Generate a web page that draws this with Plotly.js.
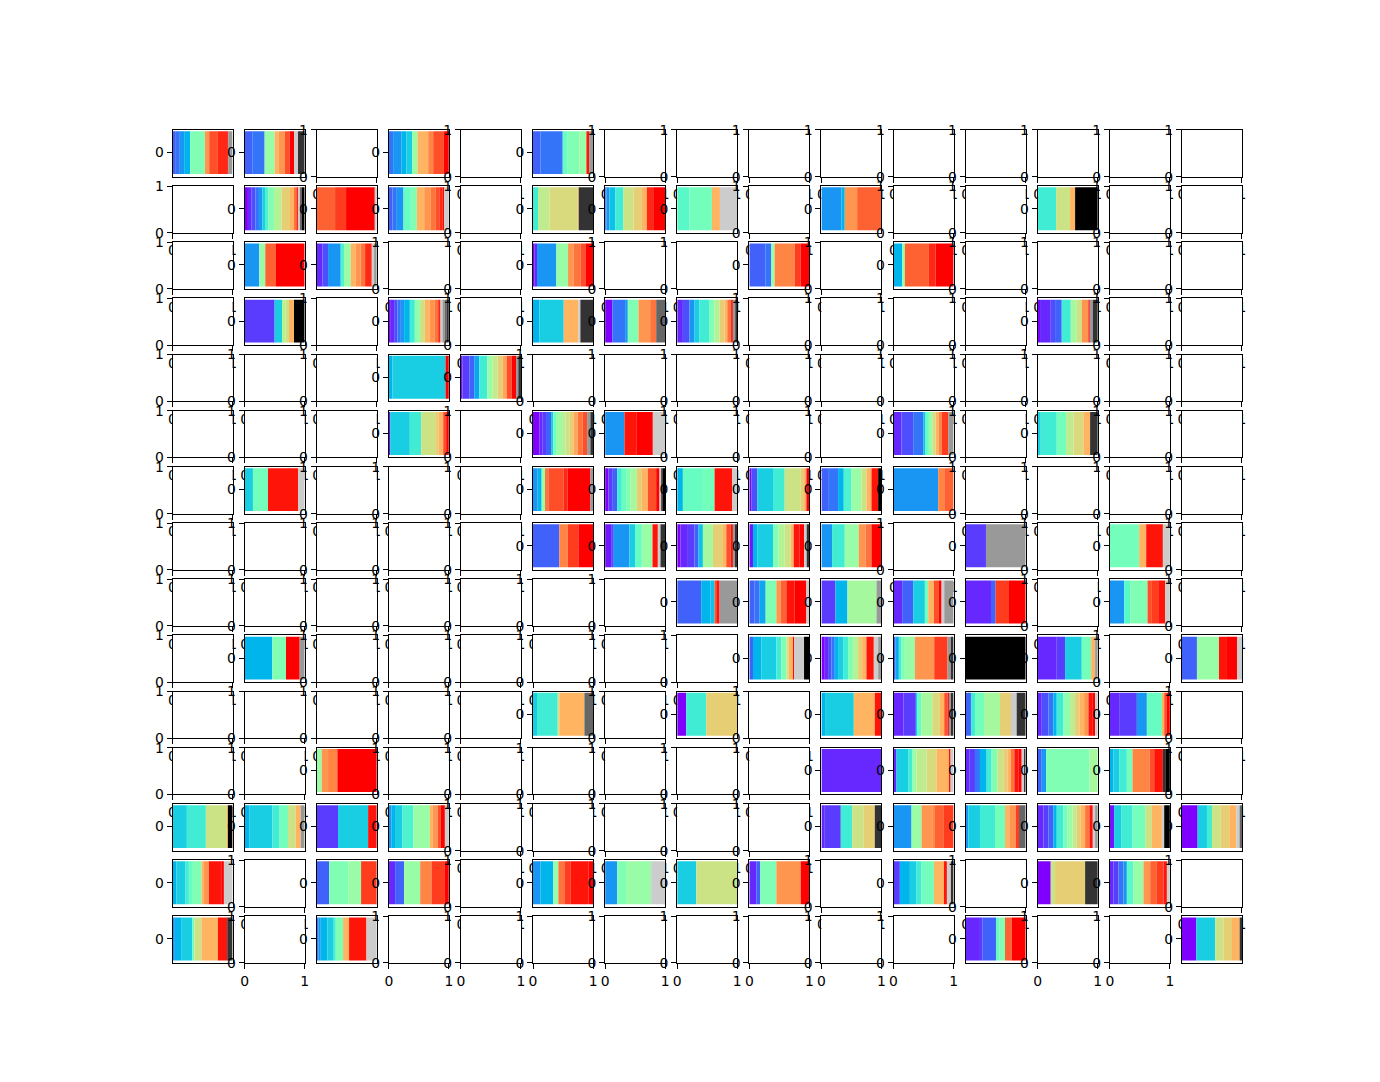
<!DOCTYPE html>
<html><head><meta charset="utf-8">
<script src="https://cdn.plot.ly/plotly-3.0.1.min.js"></script>
<style>html,body{margin:0;padding:0;background:#fff;}#chart{width:1380px;height:1082px;}</style>
</head><body><div id="chart"></div>
<script>
// facet grid: 15 x 15 panels, numbered row-major 1..225; only listed panels have data
const gridSize = 15;
const panelIds = [1,2,4,6,17,18,19,21,22,23,25,28,32,33,36,39,41,47,49,51,52,53,58,64,65,
79,81,82,86,88,92,96,97,98,99,100,101,111,112,113,114,115,117,119,128,129,130,131,132,134,
137,144,145,146,147,148,150,156,158,160,161,162,163,164,168,175,176,177,178,179,
181,182,183,184,190,191,192,193,194,195,196,198,199,201,202,203,204,206,208,209,211,213,222,225];
// category codes: 0..40 = ordered levels, 41..45 = special levels
const panelCategories = [
[5,6,8,10,20,32,36,38,40,42],[5,6,22,30,32,36,40,41,44],[6,8,10,12,22,30,33,36,40],[5,6,18,20,22,39,42],
[0,2,4,6,8,12,16,20,24,28,30,34,38,41,43,45],[35,37,40,41],[5,6,8,18,20,30,32,34,36,38,40,41],[15,25,27,29,44],
[6,8,11,15,26,28,30,38,40],[17,19,30,41],[8,10,32,35],[15,26,30,45],
[8,22,35,40],[2,4,8,16,22,30,32,34,38,41,42],[0,2,8,22,32,34,36,40],[5,6,22,33,37,40],[10,22,35,38,40],
[3,12,24,26,30,45],[0,2,4,6,8,10,15,21,26,30,32,34,38,41,42,43,44],[10,12,30,41,44],[0,6,8,20,32,34,43],
[2,4,8,12,15,20,24,28,30,34,38,42,44],[0,2,4,5,15,23,26,32,40,42,44],
[10,12,40],[1,3,5,9,15,22,25,28,31,36,40,42,44],
[0,12,15,26,28,30,36,40],[0,2,3,5,12,19,22,24,26,28,31,34,36,42,44],[8,39,40,41],[2,4,6,11,18,22,26,30,33,37,42],[12,15,19,25,27,30,44],
[12,19,39,41],[8,10,22,34,36,38,40,42],[0,3,5,15,18,20,23,28,30,36,40,41,44,45],[10,18,19,39,41],[0,4,12,15,26,28,30,36,40],[5,6,10,16,22,26,30,39,45],[8,33,35],
[5,33,37,40],[1,4,8,12,18,22,39,41,44],[0,2,3,5,11,23,28,30,36,39,42,44],[1,10,12,20,24,26,30,39,40,41,44],[8,15,22,32,34,40],[3,42],[19,30,39,41],
[5,10,11,36,39,42],[5,6,9,20,32,35,39,40,41],[3,10,23,42],[2,5,12,19,30,36,40,41,42],[2,5,37,40],[8,17,20,36,37,39,41],
[10,20,40,42],[5,10,12,15,20,26,30,40,41,45],[0,2,4,6,10,12,15,20,24,28,30,39,41,42],[5,9,15,20,22,32,37,42,44],[45],[2,3,12,19,30,42],[5,22,39,40,41],
[12,15,26,30,43],[0,15,28],[10,12,30,39],[2,3,12,18,23,27,30,36,40,42,44],[5,15,19,23,28,41,44],[2,4,6,10,15,21,25,28,30,32,39,40,41],[2,3,8,18,30,36,40],
[22,32,33,40],[2],[2,12,15,22,25,27,30,39,41],[2,3,6,10,15,20,26,28,30,34,39,40,41,44],[5,8,20,23],[10,12,15,19,33,36,39,44,45],
[12,15,26,30,45],[10,12,15,19,26,30,42],[3,12,39],[8,10,12,16,22,30,32,36,40,41],[2,3,15,26,28,44],[8,22,32,33,35,37],[8,12,15,19,30,32,37,43],
[2,3,5,10,15,19,22,25,28,30,34,39,41,42],[1,12,15,19,26,30,41,45],[0,12,15,26,28,30,41,43],
[10,12,15,18,20,30,32,39,40,41],[5,20,22,37],[2,5,22,33,37,40],[8,10,22,34,37,39,40],[8,20,22,41],[12,26],[2,5,20,32,40],[3,10,12,15,19,30,39,41,44],[0,26,28,44],[2,3,6,8,17,22,32,35,37,39,41],
[8,10,12,19,26,30,39,44],[6,8,10,12,15,20,30,39,41],[2,3,5,18,20,35,40],[0,12,26,28,30,44]
];
const panelCounts = [
[10,12,13,18,44,13,26,28,3,13],[23,37,30,12,18,15,13,12,20],[13,25,15,17,16,32,15,32,15],[22,67,15,35,21,8,12],
[10,11,12,10,10,8,10,17,23,25,12,7,6,5,5,9],[55,33,86,6],[11,13,20,22,18,22,20,15,12,8,5,14],[15,34,85,3,43],
[4,9,18,24,30,25,15,19,36],[37,67,24,52],[60,10,37,73],[55,42,15,68],
[44,18,32,86],[17,17,38,10,20,15,15,13,20,7,8],[5,7,58,35,16,21,15,23],[48,18,10,60,18,26],[26,8,72,20,54],
[90,22,10,11,15,32],[6,10,10,10,10,17,15,15,15,15,15,10,7,6,7,5,7],[19,73,44,6,38],[22,38,8,32,35,18,27],
[17,20,15,15,30,15,15,15,8,10,7,7,6],[7,32,13,20,27,18,15,20,4,9,15],
[11,159,10],[5,20,15,15,24,15,16,15,12,15,13,7,8],
[4,59,34,42,10,14,9,8],[19,10,10,15,7,8,15,13,12,13,12,15,13,10,8],[58,37,48,37],[24,35,30,7,10,10,10,10,8,20,16],[9,48,28,22,30,20,23],
[25,45,90,20],[14,12,10,10,45,13,68,8],[10,13,13,14,13,12,20,15,18,25,10,5,5,7],[17,60,35,53,15],[6,18,47,35,48,10,5,3,8],[20,30,17,23,30,15,15,20,10],[134,18,28],
[79,25,32,44],[18,8,47,18,19,32,16,8,14],[10,22,20,12,13,30,30,10,13,7,6,7],[11,13,47,17,18,18,9,18,13,8,8],[32,38,42,20,18,30],[61,119],[88,21,50,21],
[72,28,12,5,10,53],[16,15,18,32,13,17,25,35,9],[42,36,87,15],[26,33,35,10,17,15,8,8,28],[76,14,40,50],[43,18,52,13,19,21,14],
[83,41,41,15],[11,25,45,15,15,7,13,3,30,16],[10,10,10,10,12,13,15,15,15,12,13,22,13,10],[6,10,8,10,30,58,40,10,8],[180],[57,25,50,28,12,8],[45,66,24,30,15],
[12,62,5,75,26],[27,60,93],[13,84,63,20],[30,37,5,12,32,23,13,10,4,6,8],[16,12,27,48,33,17,27],[12,20,15,10,20,20,15,13,14,13,13,7,8],[28,53,30,45,7,8,9],
[15,19,28,118],[180],[9,35,13,12,30,30,37,5,9],[11,17,15,20,15,17,18,12,10,11,12,10,7,5],[12,13,130,25],[11,17,23,17,51,14,26,9,12],
[43,57,63,3,14],[15,68,22,25,23,15,12],[64,90,26],[8,13,20,32,50,8,15,10,12,12],[10,48,34,35,33,20],[54,30,32,8,27,29],[8,35,45,30,13,19,10,20],
[17,15,15,10,20,12,15,13,12,13,13,10,7,8],[13,21,34,38,20,30,7,17],[47,28,15,25,27,21,10,7],
[12,27,10,12,26,7,15,37,8,26],[37,58,38,47],[19,27,48,34,40,12],[22,39,15,18,18,54,14],[36,27,75,42],[57,123],[21,12,48,73,26],[19,30,20,15,37,30,9,12,8],[39,13,90,38],[11,15,15,10,20,30,20,20,20,10,9],
[7,19,33,7,21,49,28,16],[5,7,20,17,8,22,18,52,31],[43,8,40,10,17,20,42],[43,57,25,25,23,7]
];
const specialColors = {41:'#cccccc', 42:'#999999', 43:'#666666', 44:'#333333', 45:'#000000'};
const levelCount = 40;

// matplotlib "rainbow" colormap
function rainbow(t){
  const r = Math.min(1, Math.abs(2*t - 0.5)), g = Math.sin(Math.PI*t), b = Math.cos(Math.PI*t/2);
  const h = v => Math.round(Math.max(0,Math.min(1,v))*255).toString(16).padStart(2,'0');
  return '#'+h(r)+h(g)+h(b);
}
function categoryColor(code){ return code <= levelCount ? rainbow(code/levelCount) : specialColors[code]; }

const W = 1380, H = 1082;
const sp = {left:0.125, right:0.9, bottom:0.11, top:0.88, wspace:0.2, hspace:0.2};
const cw = (sp.right-sp.left)/(gridSize + (gridSize-1)*sp.wspace);
const ch = (sp.top-sp.bottom)/(gridSize + (gridSize-1)*sp.hspace);
const font = {family:'DejaVu Sans', size:13.9, color:'#000'};

const layout = {width:W, height:H, margin:{l:0,r:0,t:0,b:0,pad:0}, paper_bgcolor:'#fff', plot_bgcolor:'#fff',
  showlegend:false, hovermode:false, barmode:'overlay', dragmode:false};
const traces = [];

// full-figure hidden host axes: makes every panel draw its own opaque background in draw order,
// so later panels cover earlier panels' tick labels (as the panels are stacked in the reference)
layout.xaxis = {domain:[0,1], visible:false, range:[0,1], fixedrange:true};
layout.yaxis = {domain:[0,1], visible:false, range:[0,1], fixedrange:true};
traces.push({type:'scatter', mode:'markers', x:[], y:[], xaxis:'x', yaxis:'y', hoverinfo:'skip'});

for(let k=0;k<gridSize*gridSize;k++){
  const r = Math.floor(k/gridSize), c = k%gridSize;
  const sfx = String(k+2);
  const x0 = sp.left + c*cw*(1+sp.wspace), x1 = x0 + cw;
  const y1 = sp.top - r*ch*(1+sp.hspace), y0 = y1 - ch;
  const pIdx = panelIds.indexOf(k+1);
  const base = {showline:true, mirror:true, linecolor:'#000', linewidth:1, showgrid:false, zeroline:false,
    ticks:'outside', ticklen:5, tickwidth:1, tickcolor:'#000', tickfont:font, fixedrange:true, tickmode:'array'};
  const xa = Object.assign({}, base, {domain:[x0,x1], anchor:'y'+sfx});
  const ya = Object.assign({}, base, {domain:[y0,y1], anchor:'x'+sfx});
  if(pIdx >= 0){
    const counts = panelCounts[pIdx], cats = panelCategories[pIdx];
    const total = counts.reduce((a,b)=>a+b,0);
    const shares = counts.map(v=>v/total);
    const starts = []; let acc = 0;
    shares.forEach(s=>{starts.push(acc); acc += s;});
    traces.push({type:'bar', orientation:'h', x:shares, base:starts, y:shares.map(()=>0), width:1,
      marker:{color:cats.map(categoryColor), line:{width:0}}, xaxis:'x'+sfx, yaxis:'y'+sfx, hoverinfo:'skip'});
    Object.assign(xa, {range:[0,1], ticks:'', showticklabels:false, tickvals:[]});
    Object.assign(ya, {range:[-0.56,0.53], tickvals:[0], ticktext:['0']});
  } else {
    // empty panel: an empty trace so the axes are drawn
    traces.push({type:'scatter', mode:'markers', x:[], y:[], xaxis:'x'+sfx, yaxis:'y'+sfx, hoverinfo:'skip'});
    Object.assign(xa, {range:[0,1], tickvals:[0,1], ticktext:['0','1']});
    Object.assign(ya, {range:[0,1], tickvals:[0,1], ticktext:['0','1']});
  }
  layout['xaxis'+sfx] = xa;
  layout['yaxis'+sfx] = ya;
}
Plotly.newPlot('chart', traces, layout, {displayModeBar:false, staticPlot:true});
</script></body></html>
